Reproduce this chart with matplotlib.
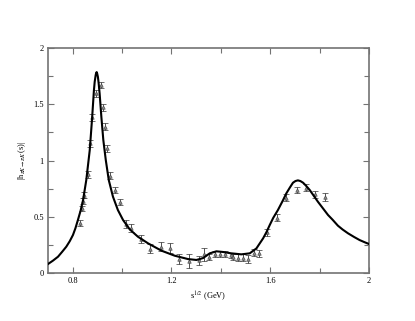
import matplotlib
matplotlib.use("Agg")
import matplotlib.pyplot as plt
from matplotlib.ticker import MultipleLocator, FormatStrFormatter

# experimental points
exp_x = [0.828, 0.838, 0.843, 0.847, 0.861, 0.871, 0.880, 0.893, 0.915, 0.924,
         0.932, 0.940, 0.950, 0.970, 0.992, 1.015, 1.036, 1.078, 1.114, 1.156,
         1.193, 1.231, 1.272, 1.312, 1.333, 1.351, 1.375, 1.395, 1.418, 1.440,
         1.451, 1.469, 1.488, 1.509, 1.534, 1.553, 1.587, 1.626, 1.663, 1.708,
         1.745, 1.781, 1.823]
exp_y = [0.447, 0.575, 0.640, 0.693, 0.877, 1.153, 1.384, 1.597, 1.671, 1.473,
         1.301, 1.108, 0.865, 0.738, 0.634, 0.436, 0.403, 0.299, 0.216, 0.234,
         0.219, 0.127, 0.107, 0.113, 0.166, 0.142, 0.169, 0.169, 0.169, 0.157,
         0.142, 0.136, 0.136, 0.127, 0.181, 0.175, 0.361, 0.492, 0.670, 0.738,
         0.759, 0.699, 0.679]
exp_err = [0.025, 0.025, 0.025, 0.03, 0.03, 0.03, 0.03, 0.03, 0.025, 0.03,
           0.03, 0.03, 0.03, 0.03, 0.025, 0.035, 0.035, 0.035, 0.04, 0.04,
           0.045, 0.045, 0.065, 0.04, 0.055, 0.03, 0.025, 0.025, 0.025, 0.025,
           0.03, 0.03, 0.03, 0.035, 0.03, 0.03, 0.03, 0.03, 0.03, 0.03,
           0.03, 0.03, 0.035]

# model curve
fit_x = [0.700, 0.720, 0.7405, 0.757, 0.774, 0.788, 0.801, 0.811, 0.821, 0.832,
         0.842, 0.855, 0.869, 0.878, 0.886, 0.889, 0.893, 0.895, 0.897, 0.899,
         0.902, 0.905, 0.909, 0.916, 0.924, 0.934, 0.946, 0.963, 0.983, 1.004,
         1.031, 1.064, 1.105, 1.159, 1.213, 1.267, 1.301, 1.328, 1.355, 1.382,
         1.409, 1.442, 1.483, 1.517, 1.544, 1.571, 1.585, 1.598, 1.612, 1.631,
         1.650, 1.665, 1.680, 1.692, 1.702, 1.712, 1.722, 1.733, 1.745, 1.760,
         1.793, 1.834, 1.852, 1.874, 1.893, 1.915, 1.940, 1.962, 1.982, 2.000]
fit_y = [0.080, 0.110, 0.145, 0.188, 0.234, 0.283, 0.338, 0.398, 0.471, 0.555,
         0.649, 0.827, 1.093, 1.360, 1.627, 1.700, 1.760, 1.780, 1.787, 1.775,
         1.745, 1.690, 1.597, 1.390, 1.182, 1.004, 0.827, 0.679, 0.560, 0.471,
         0.388, 0.323, 0.264, 0.199, 0.154, 0.124, 0.116, 0.133, 0.175, 0.193,
         0.187, 0.175, 0.166, 0.175, 0.219, 0.308, 0.365, 0.427, 0.490, 0.560,
         0.640, 0.708, 0.762, 0.803, 0.818, 0.824, 0.818, 0.803, 0.776, 0.738,
         0.634, 0.516, 0.475, 0.421, 0.387, 0.353, 0.320, 0.293, 0.274, 0.258]

plt.rcParams["font.family"] = ["Liberation Serif", "DejaVu Serif"]
plt.rcParams["mathtext.fontset"] = "stix"

fig = plt.figure(figsize=(4.15, 3.21), dpi=100)
ax = fig.add_axes([0.1157, 0.1495, 0.7735, 0.7005])

ax.plot(fit_x, fit_y, color="black", lw=1.5, zorder=3)
ax.errorbar(exp_x, exp_y, yerr=exp_err, fmt="^", ms=2.5, mfc="0.55", mec="0.3",
            mew=0.5, ecolor="0.2", elinewidth=0.6, capsize=2.2, capthick=0.6,
            zorder=2)

ax.set_xlim(0.7, 2.0)
ax.set_ylim(0, 2)
ax.xaxis.set_minor_locator(MultipleLocator(0.2))
ax.yaxis.set_major_locator(MultipleLocator(0.5))
ax.yaxis.set_minor_locator(MultipleLocator(0.25))
ax.set_xticks([0.8, 1.2, 1.6, 2.0])
ax.xaxis.set_major_formatter(FormatStrFormatter("%g"))
ax.yaxis.set_major_formatter(FormatStrFormatter("%g"))
ax.tick_params(which="both", direction="in", top=True, right=True,
               labelsize=6, color="0.45", pad=3)
ax.tick_params(which="major", length=4, width=0.8)
ax.tick_params(which="minor", length=3.5, width=0.8)
for sp in ax.spines.values():
    sp.set_color("0.45")
    sp.set_linewidth(1.2)

ax.set_xlabel(r"s$^{1/2}$ (GeV)", fontsize=6, labelpad=3)
ax.set_ylabel(r"|h$_{\pi K\rightarrow\pi K}$(s)|", fontsize=6, labelpad=4)

fig.savefig("out.png", dpi=100)
